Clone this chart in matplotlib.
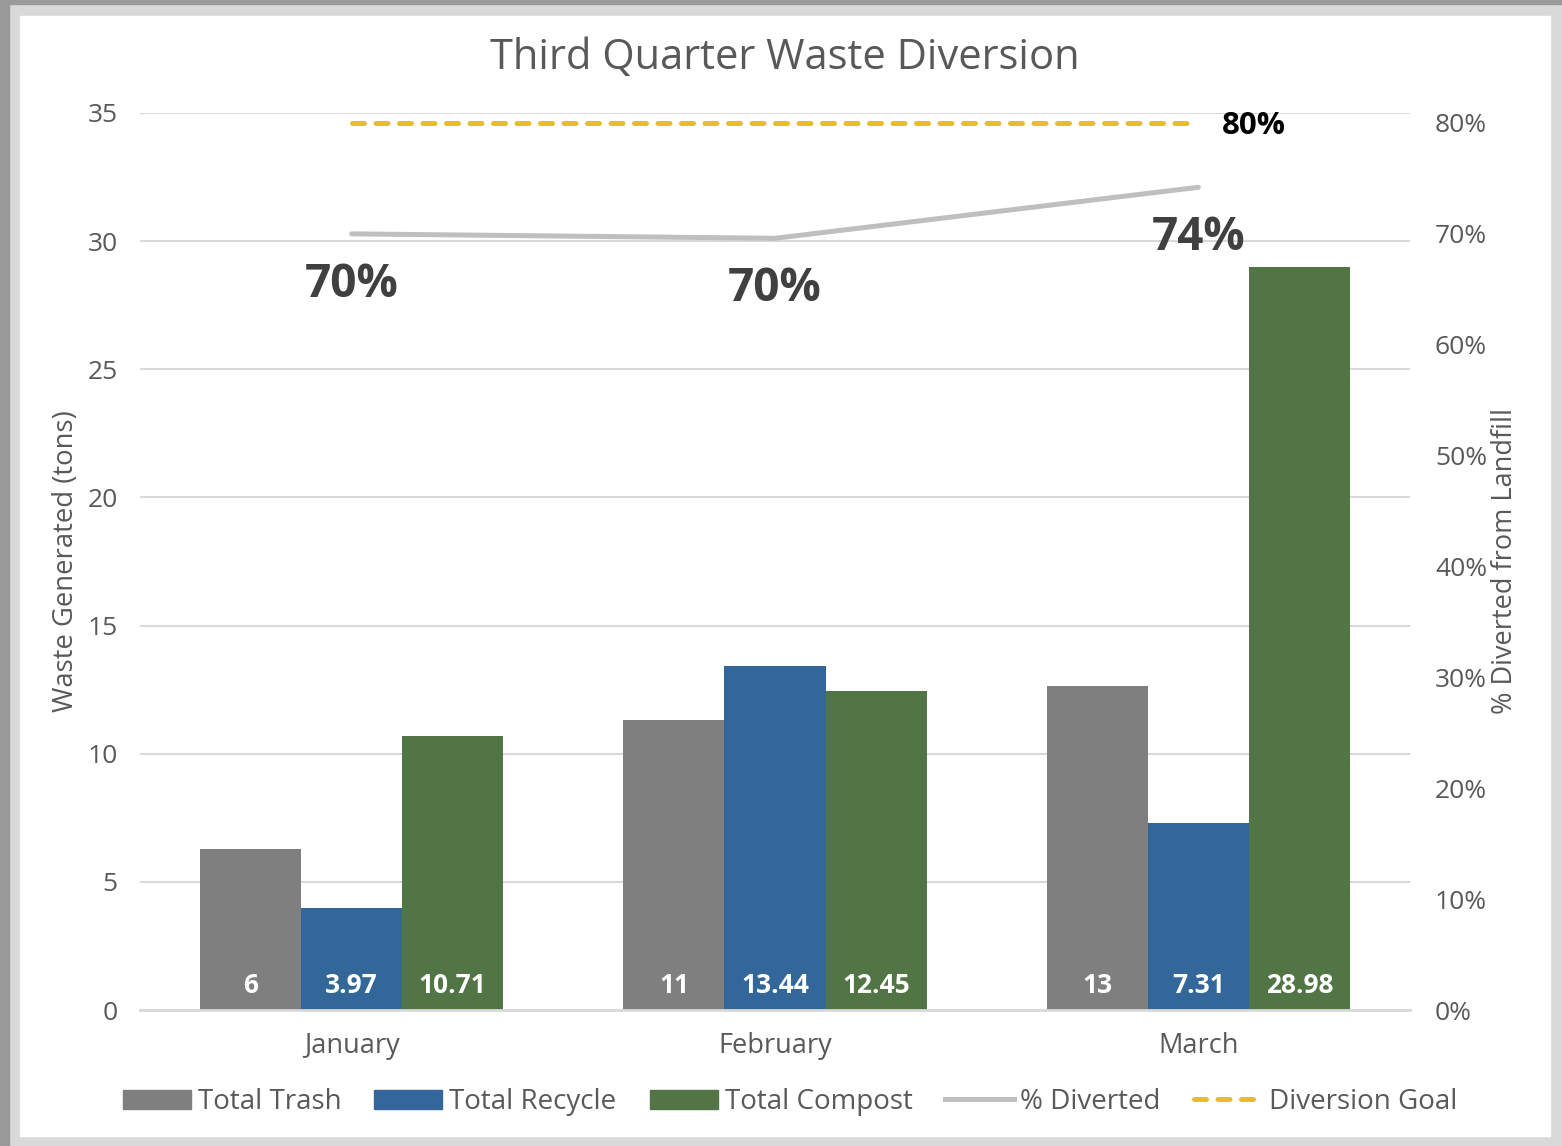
import numpy as np
import matplotlib
matplotlib.use('Agg')
import matplotlib.pyplot as plt
from matplotlib.patches import Rectangle, Patch
from matplotlib.lines import Line2D

months = ['January', 'February', 'March']
trash = [6.28, 11.31, 12.64]
recycle = [3.97, 13.44, 7.31]
compost = [10.71, 12.45, 28.98]
diverted = [0.700, 0.696, 0.742]
goal = [0.80, 0.80, 0.80]

plt.rcParams['font.family'] = ['Open Sans', 'DejaVu Sans']

W, H = 1562, 1146
GREY_TXT = '#595959'
GOAL_DASH = (2.4, 2.3)
fig = plt.figure(figsize=(W / 100, H / 100), dpi=100)
fig.patch.set_facecolor('#d9d9d9')

# window edge strips and the white chart area
fig.add_artist(Rectangle((0, 0), 9 / W, 1, transform=fig.transFigure, color='#9a9a9a', zorder=-3))
fig.add_artist(Rectangle((0, 1 - 4 / H), 1, 4 / H, transform=fig.transFigure, color='#9a9a9a', zorder=-3))
fig.add_artist(Rectangle((20 / W, 10 / H), 1530 / W, 1120 / H, transform=fig.transFigure,
                         color='white', zorder=-2))

ax = fig.add_axes([140 / W, (H - 1010) / H, 1270 / W, 897 / H])
ax.patch.set_visible(False)
ax2 = ax.twinx()

x = np.arange(len(months))
w = 0.2386
ax.bar(x - w, trash, w, color='#7f7f7f', label='Total Trash')
ax.bar(x, recycle, w, color='#336699', label='Total Recycle')
ax.bar(x + w, compost, w, color='#527545', label='Total Compost')

for off, vals, fmt in ((-w, trash, '{:.0f}'), (0, recycle, '{:.2f}'), (w, compost, '{:.2f}')):
    for xi, v in zip(x, vals):
        ax.annotate(fmt.format(v), (xi + off, 0), xytext=(0, 17.5), textcoords='offset points',
                    ha='center', va='center', color='white', fontsize=19, fontweight='bold')

ax2.plot(x, diverted, color='#bfbfbf', lw=3.6, solid_capstyle='round')
ax2.plot(x, goal, color='#e6be2a', lw=3.6, dashes=GOAL_DASH, dash_capstyle='round')

for xi, v in zip(x, diverted):
    ax2.annotate(f'{v:.0%}', (xi, v), xytext=(0, -36.5), textcoords='offset points',
                 ha='center', va='center', fontsize=33, fontweight='bold', color='#404040')
ax2.annotate(f'{goal[-1]:.0%}', (x[-1], goal[-1]), xytext=(17, -2), textcoords='offset points',
             ha='left', va='center', fontsize=22.5, fontweight='bold', color='black')

ax.set_xlim(-0.5, 2.5)
ax.set_ylim(0, 35)
ax.set_yticks(range(0, 36, 5))
ax.set_xticks(x)
ax.set_xticklabels(months)
ax2.set_ylim(0, 0.809)
ax2.set_yticks(np.arange(0, 0.81, 0.1))
ax2.set_yticklabels([f'{t:.0%}' for t in np.arange(0, 0.81, 0.1)])

ax.grid(axis='y', color='#d9d9d9', lw=1.5)
ax.set_axisbelow(True)
for s in ['top', 'left', 'right']:
    ax.spines[s].set_visible(False)
ax.spines['bottom'].set_color('#d9d9d9')
ax.spines['bottom'].set_linewidth(2)
for s in ax2.spines.values():
    s.set_visible(False)

ax.tick_params(axis='y', length=0, pad=16, labelsize=19, labelcolor=GREY_TXT)
ax.tick_params(axis='x', length=0, pad=16, labelsize=19.5, labelcolor=GREY_TXT)
ax2.tick_params(axis='y', length=0, pad=18, labelsize=19, labelcolor=GREY_TXT)

ax.set_ylabel('Waste Generated (tons)', fontsize=19.8, color=GREY_TXT)
ax.yaxis.set_label_coords((80 - 140) / 1270, 0.5)
ax2.set_ylabel('% Diverted from Landfill', fontsize=19.5, color=GREY_TXT)
ax2.yaxis.set_label_coords((1491 - 140) / 1270, 0.5)

fig.text(785 / W, 1 - 58 / H, 'Third Quarter Waste Diversion', ha='center', va='center',
         fontsize=30, color=GREY_TXT)

handles = [Patch(color='#7f7f7f'), Patch(color='#336699'), Patch(color='#527545'),
           Line2D([], [], color='#bfbfbf', lw=3.6),
           Line2D([], [], color='#e6be2a', lw=3.6, dashes=GOAL_DASH, dash_capstyle='round')]
labels = ['Total Trash', 'Total Recycle', 'Total Compost', '% Diverted', 'Diversion Goal']
fig.legend(handles, labels, loc='center', bbox_to_anchor=(790 / W, 1 - 1102 / H), ncol=5,
           frameon=False, fontsize=20, handlelength=2.45, handletextpad=0.25, columnspacing=1.19,
           labelcolor=GREY_TXT)

fig.savefig('out.png', dpi=100, facecolor=fig.get_facecolor())
